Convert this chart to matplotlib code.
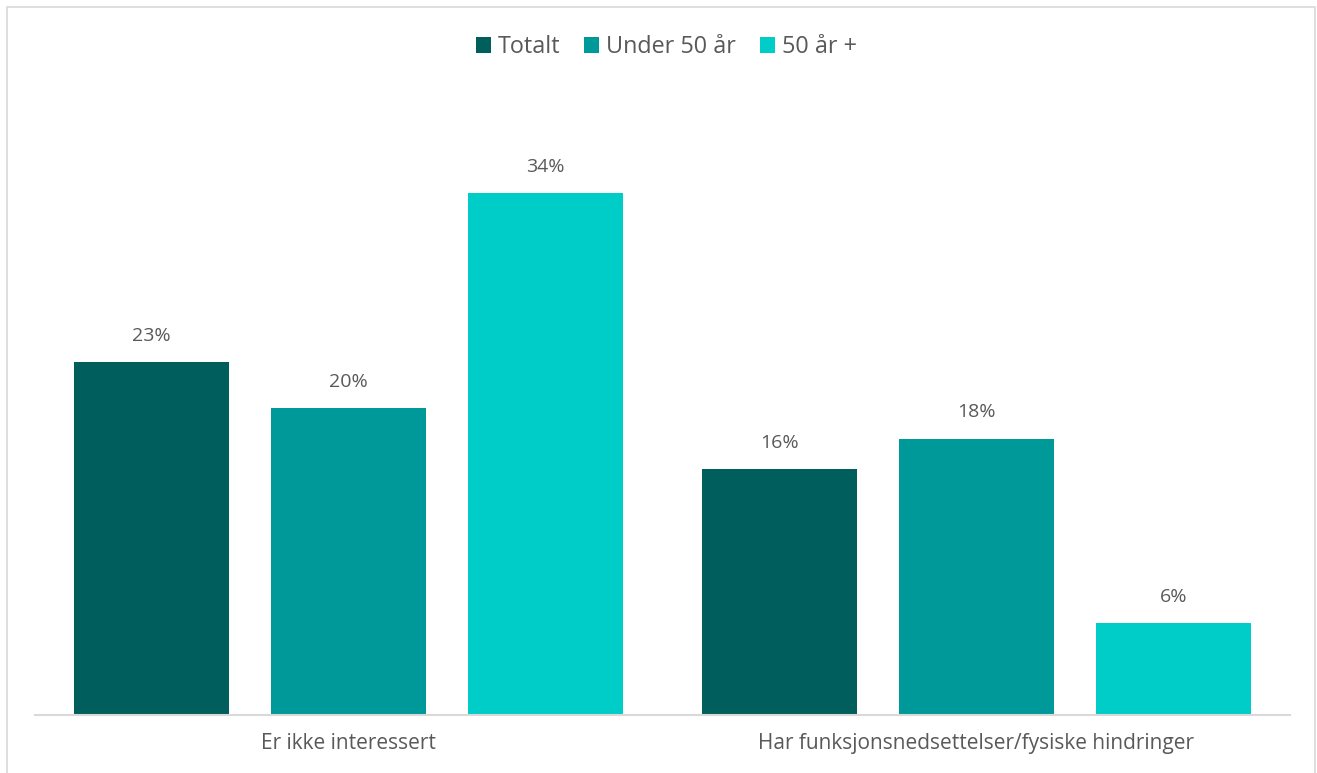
import matplotlib
matplotlib.use("Agg")
import matplotlib.pyplot as plt
from matplotlib.patches import Rectangle
import numpy as np

categories = ["Er ikke interessert", "Har funksjonsnedsettelser/fysiske hindringer"]
series_names = ["Totalt", "Under 50 år", "50 år +"]
totalt = [23, 16]
under_50 = [20, 18]
over_50 = [34, 6]
series_values = [totalt, under_50, over_50]
colors = ["#005F5C", "#009999", "#00CCC8"]

text_color = "#595959"
plt.rcParams["font.family"] = ["Open Sans", "DejaVu Sans"]

W, H = 1317, 773
fig = plt.figure(figsize=(W / 100, H / 100), dpi=100)

# light frame around the chart area
fig.patches.append(Rectangle((7 / W, -0.05), (1315 - 7) / W, 1.05 - 7 / H,
                             transform=fig.transFigure, fill=False,
                             edgecolor="#D9D9D9", linewidth=1.2))

ax_left, ax_right = 35 / W, 1290 / W
ax_bottom, ax_top = 1 - 715 / H, 1 - 101 / H
ax = fig.add_axes([ax_left, ax_bottom, ax_right - ax_left, ax_top - ax_bottom])

x = np.arange(len(categories))
step = 0.314
width = 0.247
offsets = [-step, 0, step]
bars = []
for vals, name, col, off in zip(series_values, series_names, colors, offsets):
    b = ax.bar(x + off, vals, width=width, color=col, label=name, zorder=2)
    bars.append(b)
    for rect, v in zip(b, vals):
        ax.annotate(f"{v}%", (rect.get_x() + rect.get_width() / 2, v),
                    xytext=(0, 19), textcoords="offset points",
                    ha="center", va="center", fontsize=14, color=text_color)

ax.set_xlim(-0.5, len(categories) - 0.5)
ax.set_ylim(0, 40)
ax.set_yticks([])
ax.set_xticks(x)
ax.set_xticklabels(categories, fontsize=15, color=text_color)
ax.tick_params(axis="x", length=0, pad=13)
for side in ["left", "right", "top"]:
    ax.spines[side].set_visible(False)
ax.spines["bottom"].set_color("#D9D9D9")
ax.spines["bottom"].set_linewidth(1.5)
ax.spines["bottom"].set_zorder(3)

leg = fig.legend(handles=bars, labels=series_names, loc="center",
                 bbox_to_anchor=(0.506, 1 - 47 / H), ncol=3, frameon=False,
                 fontsize=16.8, handlelength=0.65, handleheight=0.65,
                 handletextpad=0.3, columnspacing=1.0)
for t in leg.get_texts():
    t.set_color(text_color)

fig.savefig("out.png", dpi=100)
